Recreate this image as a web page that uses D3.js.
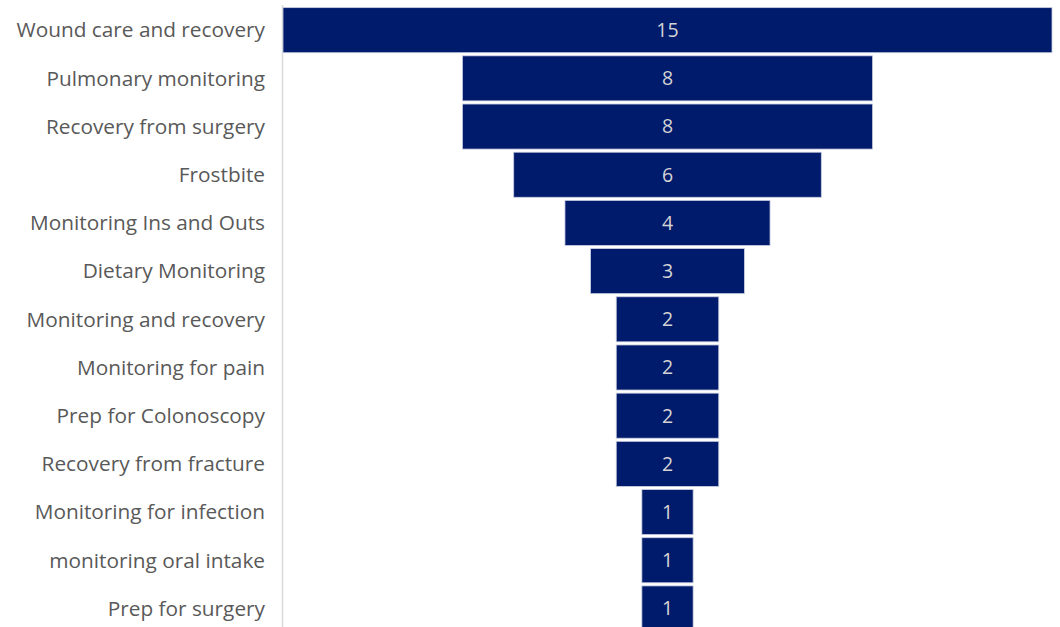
<!DOCTYPE html>
<html>
<head>
<meta charset="utf-8">
<script src="https://cdn.jsdelivr.net/npm/d3@7"></script>
<style>
  body { margin: 0; background: #fff; }
  svg { display: block; font-family: "Open Sans", sans-serif; }
</style>
</head>
<body>
<svg width="1060" height="627"></svg>
<script>
const categories = [
  "Wound care and recovery", "Pulmonary monitoring", "Recovery from surgery", "Frostbite",
  "Monitoring Ins and Outs", "Dietary Monitoring", "Monitoring and recovery", "Monitoring for pain",
  "Prep for Colonoscopy", "Recovery from fracture", "Monitoring for infection",
  "monitoring oral intake", "Prep for surgery"
];
const values = [15, 8, 8, 6, 4, 3, 2, 2, 2, 2, 1, 1, 1];

const svg = d3.select('svg');
const plotLeft = 283, plotRight = 1052, plotTop = 6.2;
const pitch = 48.17;
const cx = (plotLeft + plotRight) / 2;

const y = d3.scaleBand()
  .domain(categories)
  .range([plotTop, plotTop + pitch * categories.length])
  .paddingInner(0.065)
  .paddingOuter(0.03);

const w = d3.scaleLinear()
  .domain([0, d3.max(values)])
  .range([0, plotRight - plotLeft]);

const data = categories.map((c, i) => ({ name: c, value: values[i] }));

// axis line
svg.append('line')
  .attr('x1', plotLeft - 0.5).attr('x2', plotLeft - 0.5)
  .attr('y1', 5).attr('y2', 627)
  .attr('stroke', '#d9d9d9').attr('stroke-width', 1.5);

svg.selectAll('rect.bar')
  .data(data)
  .join('rect')
  .attr('class', 'bar')
  .attr('x', d => cx - w(d.value) / 2)
  .attr('y', d => y(d.name))
  .attr('width', d => w(d.value))
  .attr('height', y.bandwidth())
  .attr('fill', '#001A6C')
  .attr('stroke', '#c9cde0')
  .attr('stroke-width', 0.8);

svg.selectAll('text.val')
  .data(data)
  .join('text')
  .attr('class', 'val')
  .attr('x', cx)
  .attr('y', d => y(d.name) + y.bandwidth() / 2)
  .attr('dy', '0.35em')
  .attr('text-anchor', 'middle')
  .attr('fill', '#d4d4d4')
  .attr('font-size', 19.5)
  .text(d => d.value);

svg.selectAll('text.cat')
  .data(data)
  .join('text')
  .attr('class', 'cat')
  .attr('x', 265)
  .attr('y', d => y(d.name) + y.bandwidth() / 2)
  .attr('dy', '0.35em')
  .attr('text-anchor', 'end')
  .attr('fill', '#595959')
  .attr('font-size', 20.8)
  .text(d => d.name);
</script>
</body>
</html>
